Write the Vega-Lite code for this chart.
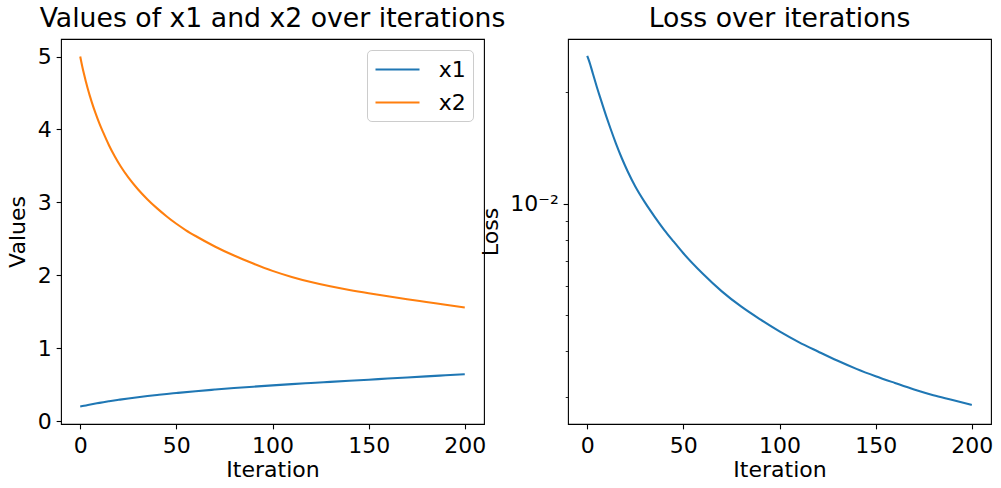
{
  "$schema": "https://vega.github.io/schema/vega-lite/v6.json",
  "background": "white",
  "padding": {"left": 5, "top": 5, "right": 11, "bottom": 5},
  "bounds": "flush",
  "spacing": 84,
  "resolve": {"legend": {"color": "independent"}},
  "datasets": {
    "params": [
      {"iteration": 0, "series": "x1", "value": 0.200},
      {"iteration": 2, "series": "x1", "value": 0.210},
      {"iteration": 4, "series": "x1", "value": 0.220},
      {"iteration": 6, "series": "x1", "value": 0.230},
      {"iteration": 8, "series": "x1", "value": 0.240},
      {"iteration": 10, "series": "x1", "value": 0.250},
      {"iteration": 15, "series": "x1", "value": 0.272},
      {"iteration": 20, "series": "x1", "value": 0.292},
      {"iteration": 25, "series": "x1", "value": 0.311},
      {"iteration": 30, "series": "x1", "value": 0.328},
      {"iteration": 35, "series": "x1", "value": 0.344},
      {"iteration": 40, "series": "x1", "value": 0.358},
      {"iteration": 45, "series": "x1", "value": 0.372},
      {"iteration": 50, "series": "x1", "value": 0.385},
      {"iteration": 60, "series": "x1", "value": 0.410},
      {"iteration": 70, "series": "x1", "value": 0.432},
      {"iteration": 80, "series": "x1", "value": 0.453},
      {"iteration": 90, "series": "x1", "value": 0.472},
      {"iteration": 100, "series": "x1", "value": 0.490},
      {"iteration": 110, "series": "x1", "value": 0.507},
      {"iteration": 120, "series": "x1", "value": 0.523},
      {"iteration": 130, "series": "x1", "value": 0.538},
      {"iteration": 140, "series": "x1", "value": 0.553},
      {"iteration": 150, "series": "x1", "value": 0.568},
      {"iteration": 160, "series": "x1", "value": 0.583},
      {"iteration": 170, "series": "x1", "value": 0.598},
      {"iteration": 180, "series": "x1", "value": 0.613},
      {"iteration": 190, "series": "x1", "value": 0.628},
      {"iteration": 200, "series": "x1", "value": 0.643},
      {"iteration": 0, "series": "x2", "value": 5.00},
      {"iteration": 1, "series": "x2", "value": 4.87},
      {"iteration": 2, "series": "x2", "value": 4.755},
      {"iteration": 3, "series": "x2", "value": 4.65},
      {"iteration": 4, "series": "x2", "value": 4.55},
      {"iteration": 5, "series": "x2", "value": 4.46},
      {"iteration": 6, "series": "x2", "value": 4.375},
      {"iteration": 8, "series": "x2", "value": 4.22},
      {"iteration": 10, "series": "x2", "value": 4.08},
      {"iteration": 12, "series": "x2", "value": 3.955},
      {"iteration": 15, "series": "x2", "value": 3.78},
      {"iteration": 18, "series": "x2", "value": 3.628},
      {"iteration": 21, "series": "x2", "value": 3.494},
      {"iteration": 25, "series": "x2", "value": 3.342},
      {"iteration": 30, "series": "x2", "value": 3.18},
      {"iteration": 35, "series": "x2", "value": 3.04},
      {"iteration": 40, "series": "x2", "value": 2.917},
      {"iteration": 45, "series": "x2", "value": 2.806},
      {"iteration": 50, "series": "x2", "value": 2.706},
      {"iteration": 55, "series": "x2", "value": 2.617},
      {"iteration": 60, "series": "x2", "value": 2.538},
      {"iteration": 70, "series": "x2", "value": 2.395},
      {"iteration": 80, "series": "x2", "value": 2.27},
      {"iteration": 90, "series": "x2", "value": 2.16},
      {"iteration": 100, "series": "x2", "value": 2.06},
      {"iteration": 110, "series": "x2", "value": 1.977},
      {"iteration": 120, "series": "x2", "value": 1.907},
      {"iteration": 130, "series": "x2", "value": 1.848},
      {"iteration": 140, "series": "x2", "value": 1.797},
      {"iteration": 150, "series": "x2", "value": 1.752},
      {"iteration": 160, "series": "x2", "value": 1.711},
      {"iteration": 170, "series": "x2", "value": 1.672},
      {"iteration": 180, "series": "x2", "value": 1.634},
      {"iteration": 190, "series": "x2", "value": 1.596},
      {"iteration": 200, "series": "x2", "value": 1.558}
    ],
    "loss": [
      {"iteration": 0, "loss": 0.02512},
      {"iteration": 1, "loss": 0.02432},
      {"iteration": 3, "loss": 0.02244},
      {"iteration": 5, "loss": 0.02070},
      {"iteration": 7, "loss": 0.01919},
      {"iteration": 10, "loss": 0.01718},
      {"iteration": 12, "loss": 0.01603},
      {"iteration": 15, "loss": 0.01453},
      {"iteration": 18, "loss": 0.01328},
      {"iteration": 21, "loss": 0.01225},
      {"iteration": 25, "loss": 0.01114},
      {"iteration": 30, "loss": 0.01009},
      {"iteration": 35, "loss": 0.00924},
      {"iteration": 40, "loss": 0.00851},
      {"iteration": 45, "loss": 0.00790},
      {"iteration": 50, "loss": 0.00735},
      {"iteration": 60, "loss": 0.00648},
      {"iteration": 70, "loss": 0.00580},
      {"iteration": 80, "loss": 0.00528},
      {"iteration": 90, "loss": 0.00487},
      {"iteration": 100, "loss": 0.00452},
      {"iteration": 110, "loss": 0.00423},
      {"iteration": 120, "loss": 0.00399},
      {"iteration": 130, "loss": 0.00377},
      {"iteration": 140, "loss": 0.00358},
      {"iteration": 150, "loss": 0.00342},
      {"iteration": 160, "loss": 0.00328},
      {"iteration": 170, "loss": 0.00315},
      {"iteration": 180, "loss": 0.00304},
      {"iteration": 190, "loss": 0.00295},
      {"iteration": 200, "loss": 0.00286}
    ]
  },
  "hconcat": [
    {
      "width": 423,
      "height": 385,
      "title": {"text": "Values of x1 and x2 over iterations"},
      "data": {"name": "params"},
      "mark": {"type": "line", "strokeWidth": 2.08, "interpolate": "monotone"},
      "encoding": {
        "x": {
          "field": "iteration",
          "type": "quantitative",
          "scale": {"domain": [-10, 210], "nice": false, "zero": false},
          "axis": {"title": "Iteration", "values": [0, 50, 100, 150, 200], "labelPadding": 6.9, "titleBaseline": "alphabetic", "titleY": 52}
        },
        "y": {
          "field": "value",
          "type": "quantitative",
          "scale": {"domain": [-0.04, 5.24], "nice": false, "zero": false},
          "axis": {"title": "Values", "values": [0, 1, 2, 3, 4, 5], "titleBaseline": "alphabetic", "titleX": -37}
        },
        "color": {
          "field": "series",
          "type": "nominal",
          "scale": {"domain": ["x1", "x2"], "range": ["#1f77b4", "#ff7f0e"]},
          "legend": {
            "title": null,
            "orient": "top-right",
            "offset": 11,
            "padding": 7,
            "fillColor": "white",
            "strokeColor": "#cccccc",
            "cornerRadius": 4.4,
            "symbolType": "M-1,0H3",
            "symbolSize": 484,
            "symbolStrokeWidth": 2.08,
            "symbolFillColor": "transparent",
            "labelOffset": 39.8,
            "labelFontSize": 22,
            "labelFont": "DejaVu Sans",
            "labelColor": "black",
            "rowPadding": 9
          }
        }
      }
    },
    {
      "width": 423,
      "height": 385,
      "title": {"text": "Loss over iterations"},
      "data": {"name": "loss"},
      "encoding": {
        "x": {
          "field": "iteration",
          "type": "quantitative",
          "scale": {"domain": [-10, 210], "nice": false, "zero": false},
          "axis": {"title": "Iteration", "values": [0, 50, 100, 150, 200], "labelPadding": 6.9, "titleBaseline": "alphabetic", "titleY": 52}
        }
      },
      "layer": [
        {
          "mark": {"type": "line", "strokeWidth": 2.08, "interpolate": "monotone", "color": "#1f77b4"},
          "encoding": {
            "y": {
              "field": "loss",
              "type": "quantitative",
              "scale": {"type": "log", "domain": [0.00254, 0.0279], "nice": false},
              "axis": {
                "orient": "left",
                "title": "Loss",
                "values": [0.01],
                "labelExpr": "'10⁻²'",
                "titleBaseline": "alphabetic",
                "titleX": -71
              }
            }
          }
        },
        {
          "mark": {"type": "line", "opacity": 0},
          "encoding": {
            "y": {
              "field": "loss",
              "type": "quantitative",
              "scale": {"type": "log", "domain": [0.00254, 0.0279], "nice": false},
              "axis": {
                "orient": "left",
                "title": null,
                "labels": false,
                "values": [0.003, 0.004, 0.005, 0.006, 0.007, 0.008, 0.009, 0.02],
                "tickSize": 2.78,
                "tickWidth": 0.83
              }
            }
          }
        }
      ],
      "resolve": {"axis": {"y": "independent"}}
    }
  ],
  "config": {
    "font": "DejaVu Sans",
    "view": {"stroke": "black", "strokeWidth": 1.1},
    "title": {
      "font": "DejaVu Sans",
      "fontSize": 26.7,
      "fontWeight": "normal",
      "color": "black",
      "anchor": "middle",
      "baseline": "alphabetic",
      "offset": 6.3
    },
    "axis": {
      "domain": false,
      "grid": false,
      "labelFont": "DejaVu Sans",
      "labelFontSize": 22,
      "labelColor": "black",
      "labelPadding": 4.86,
      "tickColor": "black",
      "tickSize": 4.86,
      "tickWidth": 1.1,
      "titleFont": "DejaVu Sans",
      "titleFontSize": 22,
      "titleFontWeight": "normal",
      "titleColor": "black"
    }
  }
}
